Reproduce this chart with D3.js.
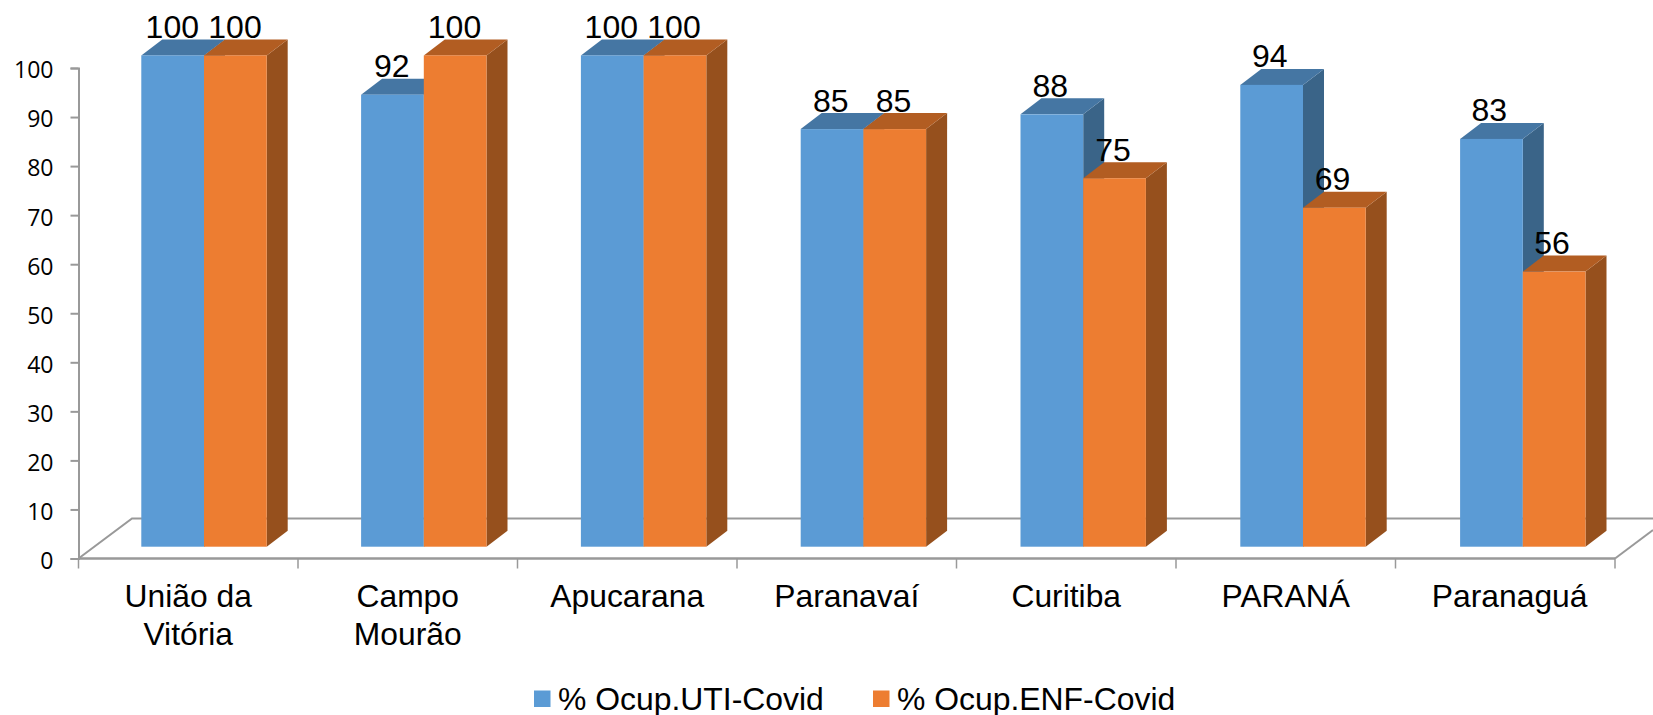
<!DOCTYPE html>
<html>
<head>
<meta charset="utf-8">
<script src="https://cdn.jsdelivr.net/npm/d3@7"></script>
<style>
  html, body { margin: 0; padding: 0; background: #fff; }
  svg { display: block; }
  text { fill: #000; font-family: "Liberation Sans", Arial, sans-serif; white-space: pre; }
</style>
</head>
<body>
<svg></svg>
<script>
const categories = ['União da Vitória', 'Campo Mourão', 'Apucarana', 'Paranavaí', 'Curitiba', 'PARANÁ', 'Paranaguá'];
const uti = [100, 92, 100, 85, 88, 94, 83];
const enf = [100, 100, 100, 85, 75, 69, 56];
const seriesNames = ['% Ocup.UTI-Covid', '% Ocup.ENF-Covid'];
const yTicks = [0, 10, 20, 30, 40, 50, 60, 70, 80, 90, 100];
// lines that wrap under the axis, the last label sits a little right of its band so it keeps a leading space
const categoryLines = [['União da', 'Vitória'], ['Campo', 'Mourão'], ['Apucarana'], ['Paranavaí'], ['Curitiba'], ['PARANÁ'], [' Paranaguá']];

const width = 1653;
const height = 715;
const axisColor = '#999999';

const svg = d3.select('svg').attr('width', width).attr('height', height);

const x = d3.scaleBand().domain(categories).range([78.5, 1615]);
const yAxisScale = d3.scaleLinear().domain([0, 100]).range([558.5, 68]);
// the bars sit on the raised floor of the 3d box, so they get their own scales
const xBar = d3.scaleBand().domain(categories).range([141.3, 1679.9]);
const yBar = d3.scaleLinear().domain([0, 100]).range([546.7, 55.4]);

const depthX = 21;
const depthY = 16;
const barW = 62.7;

// floor of the box
const floor = svg.append('g')
  .attr('fill', 'none')
  .attr('stroke', axisColor)
  .attr('stroke-width', 2);
floor.append('path').attr('d', d3.line()([[78.5, 558.5], [132, 518.5], [1653, 518.5]]));
floor.append('path').attr('d', d3.line()([[1615, 558.5], [1653, 530]]));

// axes
const yAxis = svg.append('g')
  .attr('transform', 'translate(78.5,0)')
  .call(d3.axisLeft(yAxisScale).tickValues(yTicks).tickSize(8).tickPadding(17));
yAxis.selectAll('line,path').attr('stroke', axisColor).attr('stroke-width', 2);
yAxis.selectAll('text')
  .attr('font-size', 23)
  .attr('dy', '.43em')
  .style('font-family', '"Open Sans", sans-serif');

const xAxis = svg.append('g').attr('transform', 'translate(0,558.5)');
xAxis.append('line').attr('x1', 78.5).attr('x2', 1615).attr('stroke', axisColor).attr('stroke-width', 2.4);
xAxis.selectAll('line.tick')
  .data(categories.concat(['end']))
  .enter()
  .append('line')
  .attr('class', 'tick')
  .attr('x1', (d, i) => (i < categories.length ? x(d) : x.range()[1]))
  .attr('x2', (d, i) => (i < categories.length ? x(d) : x.range()[1]))
  .attr('y2', 10)
  .attr('stroke', axisColor)
  .attr('stroke-width', 1.5);

const labels = svg.append('g')
  .attr('font-size', 31.8)
  .attr('text-anchor', 'middle');
categoryLines.forEach((lines, i) => {
  lines.forEach((line, j) => {
    labels.append('text')
      .attr('x', x(categories[i]) + x.bandwidth() / 2)
      .attr('y', 607 + j * 38)
      .text(line);
  });
});

// one 3d bar: side and top faces first, front on top
const drawBar = (g, left, value, front, top, side) => {
  const yTop = yBar(value);
  const yBase = yBar(0);
  const line = d3.line();
  g.append('path').attr('fill', side)
    .attr('d', line([[left + barW, yBase], [left + barW + depthX, yBase - depthY], [left + barW + depthX, yTop - depthY], [left + barW, yTop]]) + 'Z');
  g.append('path').attr('fill', top)
    .attr('d', line([[left, yTop], [left + depthX, yTop - depthY], [left + barW + depthX, yTop - depthY], [left + barW, yTop]]) + 'Z');
  g.append('rect').attr('fill', front)
    .attr('x', left).attr('y', yTop).attr('width', barW).attr('height', yBase - yTop);
};

const bars = svg.append('g');
categories.forEach((c, i) => {
  const left = xBar(c);
  const g = bars.append('g');
  drawBar(g, left, uti[i], '#5b9bd5', '#4576a3', '#3a6488');
  drawBar(g, left + barW, enf[i], '#ed7d31', '#b25d22', '#96501d');
});

// value labels stay on the axis step, not the bar step
const valueLabels = svg.append('g')
  .attr('font-size', 32)
  .attr('text-anchor', 'middle');
categories.forEach((c, i) => {
  [uti[i], enf[i]].forEach((v, k) => {
    valueLabels.append('text')
      .attr('x', x(c) + 93.8 + k * 62.7)
      .attr('y', yBar(v) - 17.5)
      .text(v);
  });
});

// legend
const legendColors = ['#5b9bd5', '#ed7d31'];
const legendX = [534, 873];
const legend = svg.append('g');
seriesNames.forEach((name, i) => {
  legend.append('rect')
    .attr('x', legendX[i]).attr('y', 690.5).attr('width', 16.5).attr('height', 16.5)
    .attr('fill', legendColors[i]);
  legend.append('text')
    .attr('x', legendX[i] + 24).attr('y', 709.5)
    .attr('font-size', 31.9)
    .text(name);
});
</script>
</body>
</html>
